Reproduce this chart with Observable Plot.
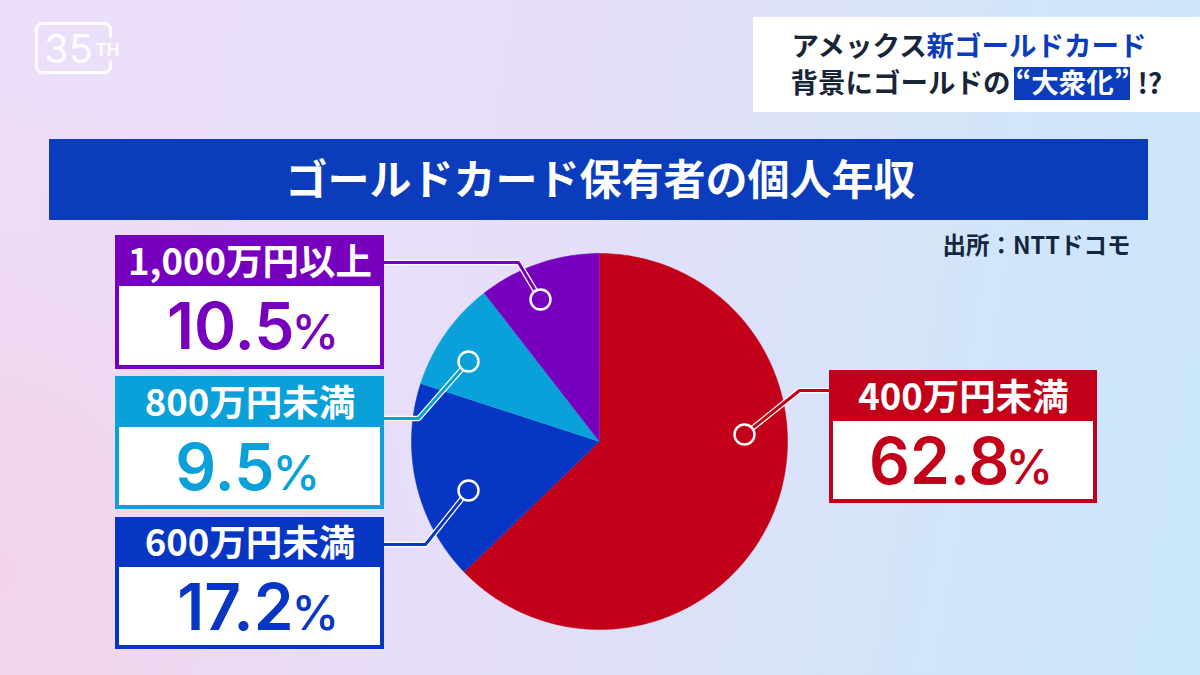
<!DOCTYPE html>
<html lang="ja">
<head>
<meta charset="utf-8">
<script src="https://cdn.jsdelivr.net/npm/d3@7"></script>
<script src="https://cdn.jsdelivr.net/npm/@observablehq/plot@0.6"></script>
<style>
html,body{margin:0;padding:0;width:1200px;height:675px;overflow:hidden;
background:
 radial-gradient(ellipse 420px 520px at 0% 85%, rgba(243,210,232,.9), rgba(243,210,232,0)),
 linear-gradient(100deg,#eddffa 0%,#e6def9 45%,#d5e4f9 72%,#c9e7fb 100%);}
svg{display:block}
</style>
</head>
<body>
<div id="chart"></div>
<script>
const categories = ["400万円未満", "600万円未満", "800万円未満", "1,000万円以上"];
const values = [62.8, 17.2, 9.5, 10.5];
const valueLabels = ["62.8", "17.2", "9.5", "10.5"];
const titleText = "ゴールドカード保有者の個人年収";
const sourceText = "出所：NTTドコモ";

const colors = ["#c20019", "#0735c4", "#0aa0d9", "#7600bd"];
const cx = 599, cy = 441, R = 188;
const jp = "'Noto Sans CJK JP', sans-serif";
const numFont = "Inter, 'Noto Sans', sans-serif";

// Layout of the callouts, one entry per category
const boxes = [
  {x1: 829, x2: 1097, y1: 370, yh: 421, y2: 503, split: 1009, pct: 1005, path: [[829,390],[799,390],[744,434]]},
  {x1: 115, x2: 384, y1: 517, yh: 567, y2: 649, split: 293, pct: 291, path: [[384,544],[425,544],[468,490]]},
  {x1: 115, x2: 384, y1: 376, yh: 427, y2: 509, split: 274, pct: 272, path: [[384,418],[418,418],[468,361]]},
  {x1: 115, x2: 384, y1: 235, yh: 286, y2: 369, split: 294, pct: 291, path: [[384,262],[518,262],[540,299]]}
];
const rows = categories.map((c, i) => ({c, label: valueLabels[i], color: colors[i], ...boxes[i]}));
const leaders = rows.flatMap(r => r.path.map(([x, y]) => ({x, y, c: r.c, color: r.color})));
const ends = rows.map(r => ({x: r.path[2][0], y: r.path[2][1], color: r.color}));

// Pie slices from the values, clockwise from 12 o'clock
const arcs = d3.pie().sort(null)(values);
const slices = arcs.flatMap((a, i) => {
  const n = Math.ceil((a.endAngle - a.startAngle) * 60);
  const pts = [{x: cx, y: cy, c: categories[i], color: colors[i]}];
  for (let k = 0; k <= n; k++) {
    const t = a.startAngle + (a.endAngle - a.startAngle) * k / n;
    pts.push({x: cx + R * Math.sin(t), y: cy - R * Math.cos(t), c: categories[i], color: colors[i]});
  }
  return pts;
});

// 35TH logo outline
const logo = [[110,36],[110,27],[106,23],[40,23],[36,27],[36,68],[40,72],[106,72],[110,68],[110,61]].map(([x,y]) => ({x,y}));

const chart = Plot.plot({
  width: 1200, height: 675, margin: 0,
  x: {type: "identity", axis: null}, y: {type: "identity", axis: null},
  style: {background: "transparent"},
  marks: [
    // Logo
    Plot.line(logo, {x: "x", y: "y", stroke: "white", strokeWidth: 3, strokeOpacity: 0.9, strokeLinejoin: "round"}),
    Plot.text(["35"], {x: 68, y: 50, text: d => d, fill: "white", fillOpacity: 0.9, fontSize: 40, fontWeight: 400, fontFamily: numFont}),
    Plot.text(["TH"], {x: 107, y: 50, text: d => d, fill: "white", fillOpacity: 0.9, fontSize: 17, fontWeight: 700, fontFamily: numFont}),

    // Top-right headline box
    Plot.rect([0], {x1: 753, x2: 1200, y1: 17, y2: 112, fill: "white"}),
    Plot.text(["アメックス"], {x: 791, y: 47, text: d => d, textAnchor: "start", fontSize: 27.5, fontWeight: 700, fontFamily: jp, fill: "#172538"}),
    Plot.text(["新ゴールドカード"], {x: 926, y: 47, text: d => d, textAnchor: "start", fontSize: 27.5, fontWeight: 700, fontFamily: jp, fill: "#0a3cbc"}),
    Plot.text(["背景にゴールドの"], {x: 790, y: 84, text: d => d, textAnchor: "start", fontSize: 27.5, fontWeight: 700, fontFamily: jp, fill: "#172538"}),
    Plot.rect([0], {x1: 1014, x2: 1130, y1: 67, y2: 100, fill: "#0a3cbc"}),
    Plot.text(["“大衆化”"], {x: 1072, y: 84, text: d => d, fontSize: 27.5, fontWeight: 700, fontFamily: jp, fill: "white"}),
    Plot.text(["!?"], {x: 1137, y: 85, text: d => d, textAnchor: "start", fontSize: 28, fontWeight: 700, fontFamily: jp, fill: "#172538"}),

    // Title band
    Plot.rect([0], {x1: 49, x2: 1148, y1: 139, y2: 220, fill: "#0a3cbc"}),
    Plot.text([titleText], {x: 600, y: 181, text: d => d, fontSize: 42, fontWeight: 700, fontFamily: jp, fill: "white"}),

    // Source
    Plot.text([sourceText], {x: 1130, y: 246, text: d => d, textAnchor: "end", fontSize: 23.5, fontWeight: 700, fontFamily: jp, fill: "#14263f"}),

    // Pie
    Plot.line(slices, {x: "x", y: "y", z: "c", fill: "color", stroke: "color", strokeWidth: 0.5, curve: "linear"}),

    // Leaders
    Plot.line(leaders, {x: "x", y: "y", z: "c", stroke: "white", strokeWidth: 5.5, strokeLinejoin: "miter"}),
    Plot.line(leaders, {x: "x", y: "y", z: "c", stroke: "color", strokeWidth: 3, strokeLinejoin: "miter"}),
    Plot.dot(ends, {x: "x", y: "y", r: 10, fill: "color", stroke: "white", strokeWidth: 2.4}),

    // Callout boxes
    Plot.rect(rows, {x1: "x1", x2: "x2", y1: "y1", y2: "y2", fill: "color"}),
    Plot.rect(rows, {x1: d => d.x1 + 4, x2: d => d.x2 - 4, y1: "yh", y2: d => d.y2 - 4, fill: "white"}),
    Plot.text(rows, {x: d => (d.x1 + d.x2) / 2, y: d => (d.y1 + d.yh) / 2 + 2, text: "c", fontSize: 36.5, fontWeight: 700, fontFamily: jp, fill: "white"}),
    Plot.text(rows, {x: "split", y: d => (d.yh + d.y2) / 2 + 1, text: "label", textAnchor: "end", fontSize: 64, fontWeight: 600, fontFamily: numFont, fill: "color"}),
    Plot.text(rows, {x: "pct", y: d => (d.yh + d.y2) / 2 + 6, text: () => "%", textAnchor: "start", fontSize: 48, fontWeight: 500, fontFamily: numFont, fill: "color"})
  ]
});
document.getElementById("chart").append(chart);
</script>
</body>
</html>
